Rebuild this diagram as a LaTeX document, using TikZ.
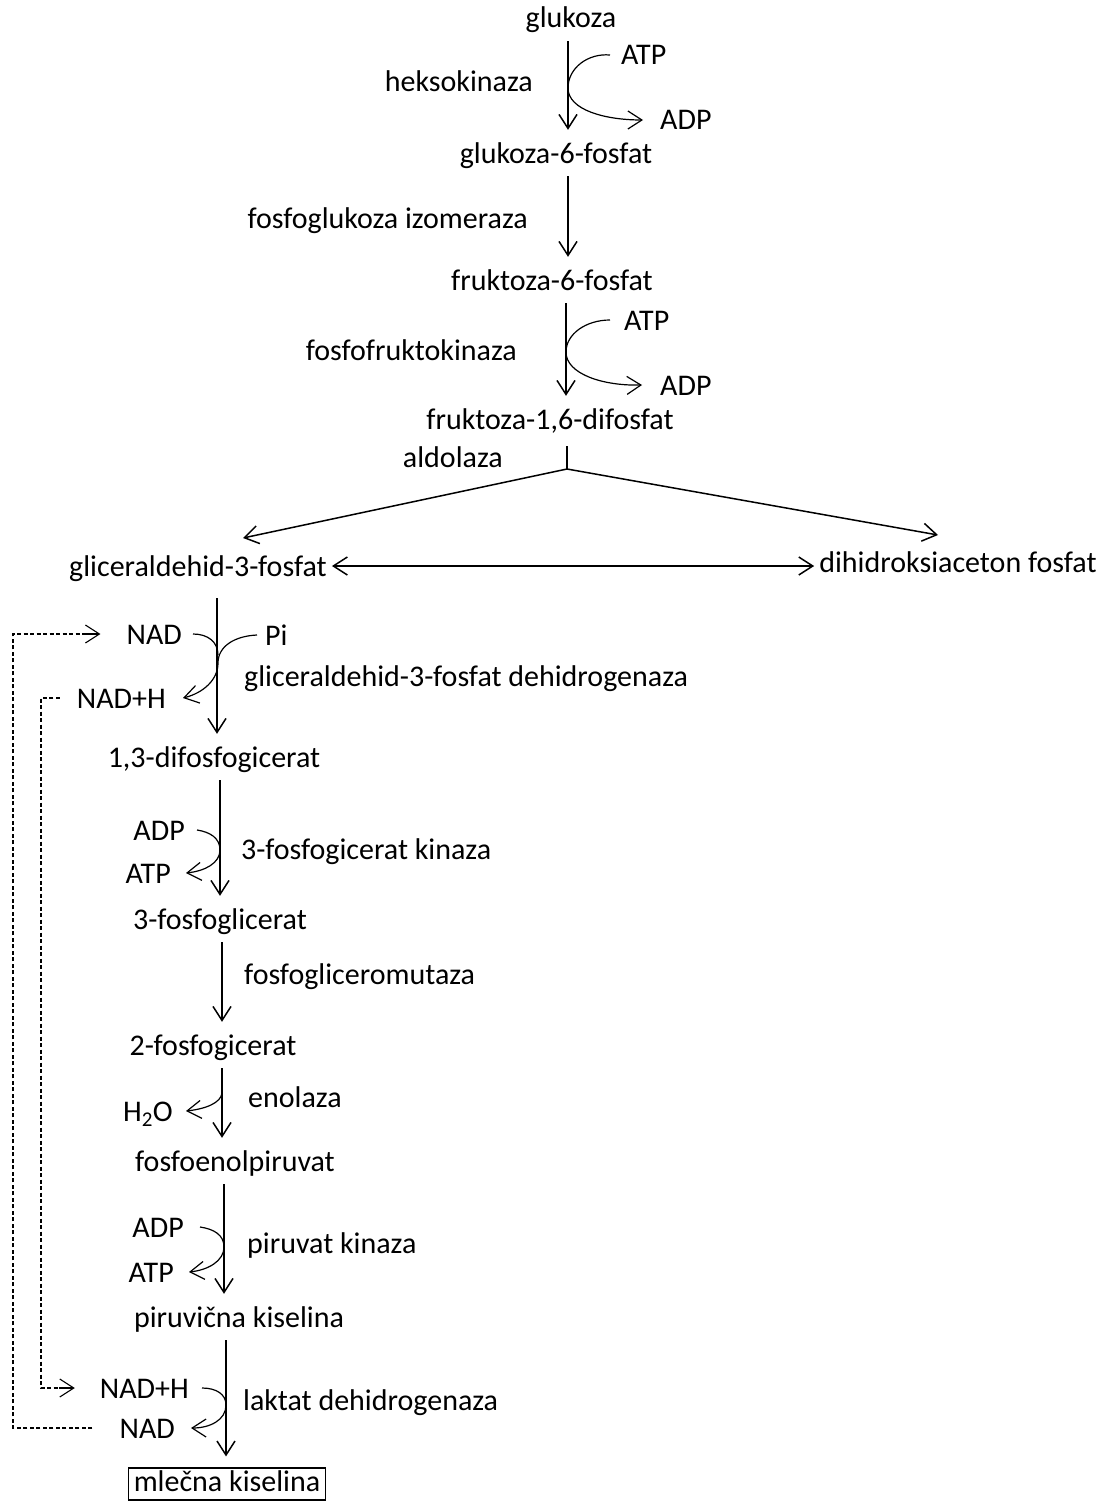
\documentclass[tikz,border=0pt]{standalone}
\usepackage{fontspec}
\setmainfont{Carlito}
\usetikzlibrary{arrows.meta}
\begin{document}
\begin{tikzpicture}[x=1pt,y=-1pt,
  lbl/.style={font=\fontsize{30pt}{34pt}\selectfont, inner xsep=0pt, inner ysep=0pt,
              text height=21pt, text depth=1pt},
  met/.style={lbl, inner xsep=5pt, minimum height=46pt},
  head/.tip={Straight Barb[length=14pt,width=18pt]},
  tip/.style={-head},
  flow/.style={tip, line width=1.5pt},
  side/.style={tip, line width=1.2pt},
  loop/.style={line width=1.1pt, dash pattern=on 4pt off 2.5pt},
  looptip/.style={tip, line width=1.1pt}
]
\useasboundingbox (0,0) rectangle (1102,1501);

% metabolites, enzymes and cofactors
\node[met] (glu) at (571,18) {glukoza};
\node[lbl,anchor=east] (hk) at (533,82) {heksokinaza};
\node[lbl,anchor=west] (atp1) at (621,55) {ATP};
\node[lbl,anchor=west] (adp1) at (660,120) {ADP};
\node[met] (g6p) at (556,153) {glukoza-6-fosfat};
\node[lbl,anchor=east] (pgi) at (528,218) {fosfoglukoza izomeraza};
\node[met] (f6p) at (552,280) {fruktoza-6-fosfat};
\node[lbl,anchor=east] (pfk) at (517,350) {fosfofruktokinaza};
\node[lbl,anchor=west] (atp2) at (624,320) {ATP};
\node[lbl,anchor=west] (adp2) at (660,385) {ADP};
\node[met] (f16) at (550,419) {fruktoza-1,6-difosfat};
\node[lbl,anchor=east] (ald) at (503,457) {aldolaza};
\node[met] (gap) at (198,566) {gliceraldehid-3-fosfat};
\node[met] (dhap) at (958,562) {dihidroksiaceton fosfat};
\node[lbl,anchor=east] (nad1) at (182,634) {NAD};
\node[lbl,anchor=west] (pi) at (265,635) {Pi};
\node[lbl,anchor=east] (nadh1) at (166,698) {NAD+H};
\node[lbl,anchor=west] (gapdh) at (244,676) {gliceraldehid-3-fosfat dehidrogenaza};
\node[met] (bpg) at (214,757) {1,3-difosfogicerat};
\node[lbl,anchor=east] (adp3) at (185,830) {ADP};
\node[lbl,anchor=east] (atp3) at (171,873) {ATP};
\node[lbl,anchor=west] (pgk) at (241,849) {3-fosfogicerat kinaza};
\node[met] (pg3) at (220,919) {3-fosfoglicerat};
\node[lbl,anchor=west] (pgm) at (244,974) {fosfogliceromutaza};
\node[met] (pg2) at (213,1045) {2-fosfogicerat};
\node[lbl,anchor=east] (h2o) at (173,1111) {H\textsubscript{2}O};
\node[lbl,anchor=west] (eno) at (248,1097) {enolaza};
\node[met] (pep) at (235,1161) {fosfoenolpiruvat};
\node[lbl,anchor=east] (adp4) at (184,1227) {ADP};
\node[lbl,anchor=east] (atp4) at (174,1272) {ATP};
\node[lbl,anchor=west] (pk) at (247,1243) {piruvat kinaza};
\node[met] (pyr) at (239,1317) {piruvična kiselina};
\node[lbl,anchor=east] (nadh2) at (189,1388) {NAD+H};
\node[lbl,anchor=east] (nad2) at (175,1428) {NAD};
\node[lbl,anchor=west] (ldh) at (243,1400) {laktat dehidrogenaza};
\node[lbl, text depth=7pt, draw, line width=1.2pt, inner xsep=5pt, inner ysep=2pt] (lac) at (227,1484) {mlečna kiselina};

% vertical axes of the pathway
\coordinate (ax1) at (568,0);
\coordinate (ax3) at (566,0);
\coordinate (ax4) at (217,0);
\coordinate (ax5) at (220,0);
\coordinate (ax6) at (222,0);
\coordinate (ax8) at (224,0);
\coordinate (ax9) at (226,0);
\coordinate (split) at (567,469);
\coordinate (tipL) at (243,538);
\coordinate (tipR) at (938,535);
\coordinate (enoSrc) at (222,1093);
\coordinate (lx1) at (13,0);
\coordinate (lx2) at (41,0);

% main flow
\draw[flow] (glu.south -| ax1) -- (g6p.north -| ax1);
\draw[flow] (g6p.south -| ax1) -- (f6p.north -| ax1);
\draw[flow] (f6p.south -| ax3) -- (f16.north -| ax3);
\draw[line width=1.5pt, shorten <=4pt] (f16.south -| split) -- (split);
\draw[flow] (split) -- (tipL);
\draw[flow] (split) -- (tipR);
\draw[flow, head-head] (gap.east) -- (dhap.west |- gap.east);
\draw[flow, shorten <=9pt] (gap.south -| ax4) -- (bpg.north -| ax4);
\draw[flow] (bpg.south -| ax5) -- (pg3.north -| ax5);
\draw[flow] (pg3.south -| ax6) -- (pg2.north -| ax6);
\draw[flow] (pg2.south -| ax6) -- (pep.north -| ax6);
\draw[flow] (pep.south -| ax8) -- (pyr.north -| ax8);
\draw[flow, shorten >=11pt] (pyr.south -| ax9) -- (lac.north -| ax9);

% cofactor curves
\draw[side] ([xshift=-11pt]atp1.west) .. controls (588,53) and (568,68) .. (568,88)
  .. controls (568,110) and (605,120) .. ([xshift=-17pt]adp1.west);
\draw[side] ([xshift=-14pt]atp2.west) .. controls (586,320) and (566,334) .. (566,352)
  .. controls (566,374) and (603,386) .. ([xshift=-18pt]adp2.west);
\draw[line width=1.2pt] ([xshift=11pt]nad1.east) .. controls (208,634) and (218,642) .. (218,655);
\draw[side] ([xshift=-8pt]pi.west) .. controls (235,636) and (218,646) .. (218,663)
  .. controls (218,680) and (203,693) .. ([xshift=17pt]nadh1.east);
\draw[side] ([xshift=12pt]adp3.east) .. controls (210,832) and (220,838) .. (220,850)
  .. controls (220,863) and (205,871) .. ([xshift=15pt]atp3.east);
\draw[side] (enoSrc) .. controls (221,1103) and (205,1109) .. ([xshift=13pt]h2o.east);
\draw[side] ([xshift=16pt]adp4.east) .. controls (214,1229) and (224,1235) .. (224,1247)
  .. controls (224,1261) and (208,1270) .. ([xshift=15pt]atp4.east);
\draw[side] ([xshift=13pt]nadh2.east) .. controls (216,1388) and (226,1394) .. (226,1405)
  .. controls (226,1420) and (210,1428) .. ([xshift=16pt]nad2.east);

% NAD recycling loops (dashed lines, solid tips)
\draw[loop] ([xshift=-27pt]nad2.west) -- (nad2.west -| lx1) |- ([xshift=-40pt]nad1.west);
\draw[looptip] ([xshift=-42pt]nad1.west) -- ([xshift=-26pt]nad1.west);
\draw[loop] ([xshift=-17pt]nadh1.west) -- (nadh1.west -| lx2) |- ([xshift=-39pt]nadh2.west);
\draw[looptip] ([xshift=-41pt]nadh2.west) -- ([xshift=-25pt]nadh2.west);
\end{tikzpicture}
\end{document}
